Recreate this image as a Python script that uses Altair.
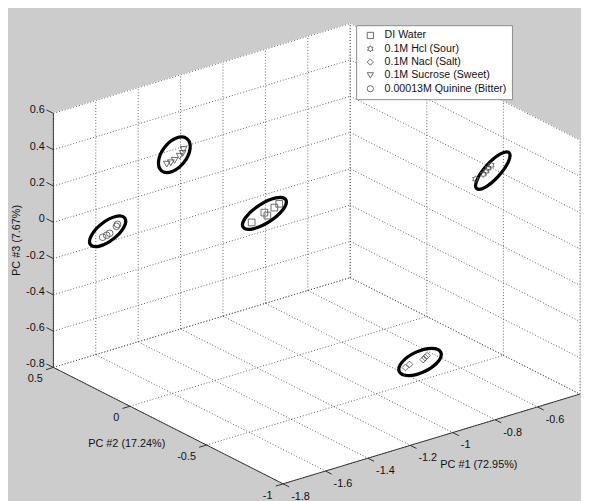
import altair as alt
import pandas as pd

# ---------------- data (PC scores) ----------------
series = ["DI Water", "0.1M Hcl (Sour)", "0.1M Nacl (Salt)",
          "0.1M Sucrose (Sweet)", "0.00013M Quinine (Bitter)"]

water_pc1 = [-1.226, -1.166, -1.152, -1.119, -1.096]
water_pc2 = [0.00, 0.00, 0.00, 0.00, 0.00]
water_pc3 = [0.010, 0.043, 0.022, 0.054, 0.067]

hcl_pc1 = [-0.676, -0.639, -0.625, -0.616, -0.602]
hcl_pc2 = [-0.70, -0.70, -0.70, -0.70, -0.70]
hcl_pc3 = [0.354, 0.368, 0.380, 0.393, 0.404]

nacl_pc1 = [-0.862, -0.843, -0.778, -0.769, -0.760]
nacl_pc2 = [-0.50, -0.50, -0.50, -0.50, -0.50]
nacl_pc3 = [-0.704, -0.694, -0.690, -0.682, -0.675]

sucrose_pc1 = [-1.482, -1.463, -1.445, -1.421, -1.407, -1.403]
sucrose_pc2 = [0.20, 0.20, 0.20, 0.20, 0.20, 0.20]
sucrose_pc3 = [0.336, 0.337, 0.344, 0.358, 0.369, 0.389]

quinine_pc1 = [-1.712, -1.693, -1.679, -1.647, -1.642]
quinine_pc2 = [0.30, 0.30, 0.30, 0.30, 0.30]
quinine_pc3 = [-0.028, -0.024, -0.018, 0.009, 0.018]

pc1_ticks = [-1.8, -1.6, -1.4, -1.2, -1.0, -0.8, -0.6]
pc1_labels = ["-1.8", "-1.6", "-1.4", "-1.2", "-1", "-0.8", "-0.6"]
pc2_ticks = [0.5, 0.0, -0.5, -1.0]
pc2_labels = ["0.5", "0", "-0.5", "-1"]
pc3_ticks = [-0.8, -0.6, -0.4, -0.2, 0.0, 0.2, 0.4, 0.6]
pc3_labels = ["-0.8", "-0.6", "-0.4", "-0.2", "0", "0.2", "0.4", "0.6"]
pc1_lim = [-1.8, -0.4]
pc2_lim = [-1.0, 0.5]
pc3_lim = [-0.8, 0.6]
axis_titles = ["PC #1 (72.95%)", "PC #2 (17.24%)", "PC #3 (7.67%)"]

# ---------------- camera (orthographic view) ----------------
ORIGIN = (54.0, 369.0)      # screen position of the (pc1 min, pc2 max, pc3 min) corner
E1 = (215.0, -65.0)         # screen shift per unit of PC1
E2 = (-155.3, -78.7)        # screen shift per unit of PC2
E3 = (0.0, -184.0)          # screen shift per unit of PC3


def proj(a, b, c):
    xe = (f"{ORIGIN[0]} + {E1[0]}*(datum.{a} - ({pc1_lim[0]})) + "
          f"{E2[0]}*(datum.{b} - ({pc2_lim[1]})) + {E3[0]}*(datum.{c} - ({pc3_lim[0]}))")
    ye = (f"{ORIGIN[1]} + {E1[1]}*(datum.{a} - ({pc1_lim[0]})) + "
          f"{E2[1]}*(datum.{b} - ({pc2_lim[1]})) + {E3[1]}*(datum.{c} - ({pc3_lim[0]}))")
    return xe, ye


XS = alt.Scale(domain=[8, 589], nice=False, zero=False)
YS = alt.Scale(domain=[8, 501], nice=False, zero=False, reverse=True)


def X(f):
    return alt.X(f, type="quantitative", scale=XS, axis=None)


def Y(f):
    return alt.Y(f, type="quantitative", scale=YS, axis=None)


FONT = "Liberation Sans"

# ---------------- panes ----------------
lo1, hi1 = pc1_lim
lo2, hi2 = pc2_lim
lo3, hi3 = pc3_lim
pane_rows = []
for name, corners in [
    ("back", [(lo1, hi2, lo3), (hi1, hi2, lo3), (hi1, hi2, hi3), (lo1, hi2, hi3)]),
    ("right", [(hi1, hi2, lo3), (hi1, lo2, lo3), (hi1, lo2, hi3), (hi1, hi2, hi3)]),
    ("floor", [(lo1, hi2, lo3), (hi1, hi2, lo3), (hi1, lo2, lo3), (lo1, lo2, lo3)]),
]:
    for k, (a, b, c) in enumerate(corners):
        pane_rows.append({"pane": name, "k": k, "p1": a, "p2": b, "p3": c})
panes_df = pd.DataFrame(pane_rows)
pxe, pye = proj("p1", "p2", "p3")
panes = alt.Chart(panes_df).transform_calculate(sx=pxe, sy=pye).mark_line(
    fill="white", stroke="white", strokeWidth=1, interpolate="linear-closed"
).encode(x=X("sx"), y=Y("sy"), detail="pane:N", order="k:Q")

# ---------------- grid segments ----------------
grid_rows = []
for t in pc1_ticks + [hi1]:
    grid_rows.append((t, hi2, lo3, t, hi2, hi3))      # back wall verticals
    grid_rows.append((t, hi2, lo3, t, lo2, lo3))      # floor lines
for t in pc3_ticks:
    grid_rows.append((lo1, hi2, t, hi1, hi2, t))      # back wall horizontals
    grid_rows.append((hi1, hi2, t, hi1, lo2, t))      # right wall horizontals
for t in pc2_ticks:
    grid_rows.append((hi1, t, lo3, hi1, t, hi3))      # right wall verticals
    grid_rows.append((lo1, t, lo3, hi1, t, lo3))      # floor lines
grid_df = pd.DataFrame(grid_rows, columns=["a1", "a2", "a3", "b1", "b2", "b3"])
ax_, ay_ = proj("a1", "a2", "a3")
bx_, by_ = proj("b1", "b2", "b3")
grid = alt.Chart(grid_df).transform_calculate(x1=ax_, y1=ay_, x2=bx_, y2=by_).mark_rule(
    color="#505050", strokeWidth=0.9, strokeDash=[1, 2]
).encode(x=X("x1"), y=Y("y1"), x2="x2:Q", y2="y2:Q")

# ---------------- axes lines and ticks ----------------
axis_rows = [
    (lo1, hi2, lo3, lo1, hi2, hi3),
    (lo1, hi2, lo3, lo1, lo2, lo3),
    (lo1, lo2, lo3, hi1, lo2, lo3),
]
for t in pc3_ticks:
    axis_rows.append((lo1, hi2, t, lo1, hi2 + 0.045, t))
for t in pc2_ticks:
    axis_rows.append((lo1, t, lo3, lo1 - 0.035, t, lo3))
for t in pc1_ticks:
    axis_rows.append((t, lo2, lo3, t, lo2 - 0.04, lo3))
axis_df = pd.DataFrame(axis_rows, columns=["a1", "a2", "a3", "b1", "b2", "b3"])
axes = alt.Chart(axis_df).transform_calculate(x1=ax_, y1=ay_, x2=bx_, y2=by_).mark_rule(
    color="#333333", strokeWidth=1
).encode(x=X("x1"), y=Y("y1"), x2="x2:Q", y2="y2:Q")

# ---------------- tick labels ----------------
z_lab = pd.DataFrame({"t": pc3_labels, "p1": lo1, "p2": hi2 + 0.05, "p3": pc3_ticks})
y_lab = pd.DataFrame({"t": pc2_labels, "p1": lo1 - 0.05, "p2": pc2_ticks, "p3": lo3})
x_lab = pd.DataFrame({"t": pc1_labels, "p1": pc1_ticks, "p2": lo2 - 0.04, "p3": lo3})


def text_layer(df, **kw):
    return alt.Chart(df).transform_calculate(sx=pxe, sy=pye).mark_text(
        font=FONT, fontSize=11, color="#111111", baseline="middle", **kw
    ).encode(x=X("sx"), y=Y("sy"), text="t:N")


z_text = text_layer(z_lab, align="right", dx=-1, dy=1)
y_text = text_layer(y_lab, align="right", dy=9)
x_text = text_layer(x_lab, align="left", dx=2, dy=10)

t1 = text_layer(pd.DataFrame({"t": [axis_titles[0]], "p1": [(lo1 + hi1) / 2], "p2": [lo2], "p3": [lo3]}),
                align="center", dx=48, dy=26)
t2 = text_layer(pd.DataFrame({"t": [axis_titles[1]], "p1": [lo1], "p2": [(lo2 + hi2) / 2], "p3": [lo3]}),
                align="center", dx=-42, dy=19)
t3 = text_layer(pd.DataFrame({"t": [axis_titles[2]], "p1": [lo1], "p2": [hi2], "p3": [(lo3 + hi3) / 2]}),
                align="center", angle=270, dy=-37)

# ---------------- samples ----------------
pts_rows = []
for name, a, b, c in [
    (series[0], water_pc1, water_pc2, water_pc3),
    (series[1], hcl_pc1, hcl_pc2, hcl_pc3),
    (series[2], nacl_pc1, nacl_pc2, nacl_pc3),
    (series[3], sucrose_pc1, sucrose_pc2, sucrose_pc3),
    (series[4], quinine_pc1, quinine_pc2, quinine_pc3),
]:
    for i in range(len(a)):
        pts_rows.append({"series": name, "p1": a[i], "p2": b[i], "p3": c[i]})
pts_df = pd.DataFrame(pts_rows)

HEX = ("M0,-1L0.2887,-0.5L0.866,-0.5L0.5774,0L0.866,0.5L0.2887,0.5L0,1"
       "L-0.2887,0.5L-0.866,0.5L-0.5774,0L-0.866,-0.5L-0.2887,-0.5Z")
shapes = ["square", HEX, "diamond", "triangle-down", "circle"]

points = alt.Chart(pts_df).transform_calculate(sx=pxe, sy=pye).mark_point(
    filled=False, size=46, strokeWidth=0.9, color="#5a5a5a", opacity=1
).encode(
    x=X("sx"), y=Y("sy"),
    shape=alt.Shape("series:N", scale=alt.Scale(domain=series, range=shapes),
                    sort=series,
                    legend=alt.Legend(orient="none", legendX=353, legendY=14, title=None,
                                      fillColor="white", strokeColor="#8a8a8a",
                                      padding=5, labelFont=FONT, labelFontSize=10.8,
                                      labelColor="#111111", symbolSize=40,
                                      symbolStrokeColor="#5a5a5a", symbolStrokeWidth=0.9,
                                      symbolFillColor="transparent", symbolOffset=4,
                                      rowPadding=1.5, labelOffset=9)),
)

# ---------------- hand-drawn cluster ellipses ----------------
ellipse_style = {
    series[4]: dict(ratio=0.44, major=44, angle=322, dx=-3, dy=0),
    series[3]: dict(ratio=0.6, major=41.5, angle=308, dx=-2, dy=-3),
    series[0]: dict(ratio=0.38, major=51.5, angle=327, dx=-3, dy=1),
    series[2]: dict(ratio=0.46, major=46.5, angle=335, dx=2, dy=1),
    series[1]: dict(ratio=0.33, major=49, angle=312, dx=8, dy=-1),
}
ellipses = []
for name, st in ellipse_style.items():
    r = st["ratio"]
    path = f"M-1,0A1,{r},0,1,0,1,0A1,{r},0,1,0,-1,0Z"
    ellipses.append(
        alt.Chart(pts_df).transform_filter(alt.datum.series == name)
        .transform_calculate(sx=pxe, sy=pye)
        .transform_aggregate(cx="mean(sx)", cy="mean(sy)")
        .mark_point(shape=path, filled=False, color="black", strokeWidth=3.3,
                    size=st["major"] ** 2, angle=st["angle"], opacity=1,
                    xOffset=st["dx"], yOffset=st["dy"])
        .encode(x=X("cx"), y=Y("cy"))
    )

chart = alt.layer(
    panes, grid, axes, z_text, y_text, x_text, t1, t2, t3, *ellipses, points
).properties(
    width=581, height=493, padding=0, background="#cccccc",
    autosize=alt.AutoSizeParams(type="none"),
).configure_view(strokeWidth=0)

chart.save("out.html", embed_options={"renderer": "svg", "actions": False})
